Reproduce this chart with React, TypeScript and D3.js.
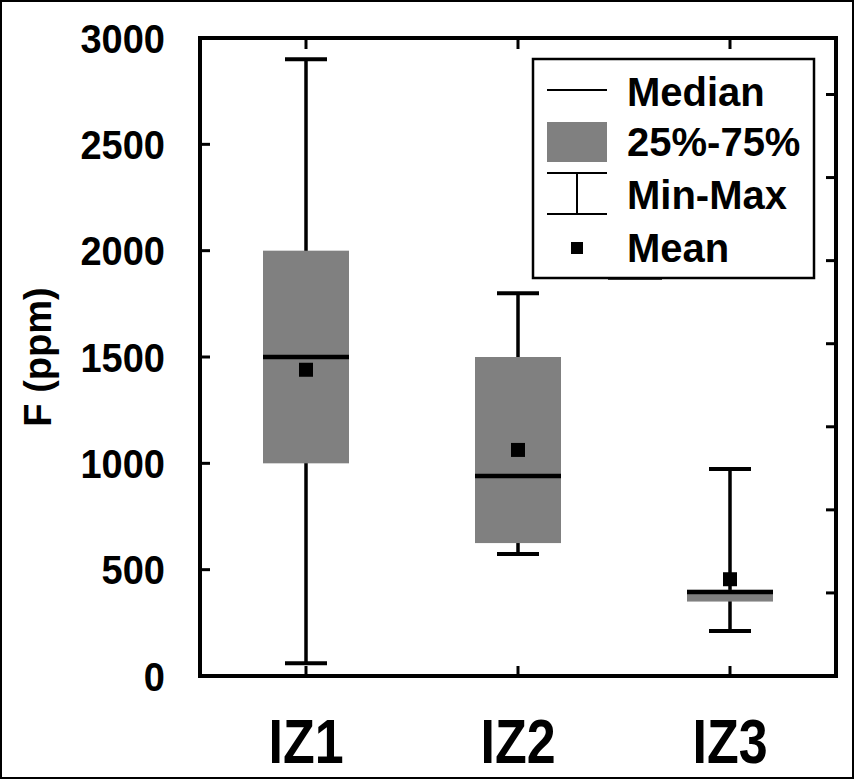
import { useEffect, useRef } from 'react';
import * as d3 from 'd3';

const categories = ['IZ1', 'IZ2', 'IZ3'];
const minVals = [60, 574, 212];
const q1Vals = [1000, 625, 350];
const medianVals = [1500, 940, 395];
const q3Vals = [2000, 1500, 405];
const maxVals = [2900, 1800, 973];
const meanVals = [1440, 1063, 455];
const yTicks = [0, 500, 1000, 1500, 2000, 2500, 3000];
// unlabeled ticks on the right-hand frame
const rightTicks = [1, 2, 3, 4, 5, 6, 7];
const legendItems = ['Median', '25%-75%', 'Min-Max', 'Mean'];

const W = 854;
const H = 779;
const FONT = '"Liberation Sans", Arial, Helvetica, sans-serif';

export default function App() {
  const svgRef = useRef<SVGSVGElement>(null);

  useEffect(() => {
    if (!svgRef.current) return;
    const svg = d3.select(svgRef.current);
    svg.selectAll('*').remove();

    const plot = { left: 200, right: 836, top: 38, bottom: 676 };

    const x = d3.scaleBand<string>().domain(categories).range([plot.left, plot.right]).padding(0);
    const y = d3.scaleLinear().domain([0, 3000]).range([plot.bottom, plot.top]);
    const yRight = d3.scaleLinear().domain([0, 7.68]).range([plot.bottom, plot.top]);
    const cx = (c: string) => (x(c) ?? 0) + x.bandwidth() / 2;

    const boxW = 86;
    const capW = 42;
    const meanSize = 14;

    // outer border
    svg.append('rect')
      .attr('x', 1).attr('y', 1)
      .attr('width', W - 2).attr('height', H - 2)
      .attr('fill', '#fff')
      .attr('stroke', '#000')
      .attr('stroke-width', 2);

    const g = svg.append('g');

    // boxes and whiskers
    categories.forEach((c, i) => {
      const xc = cx(c);
      g.append('line')
        .attr('x1', xc).attr('x2', xc)
        .attr('y1', y(minVals[i])).attr('y2', y(maxVals[i]))
        .attr('stroke', '#000').attr('stroke-width', 3.5);
      [minVals[i], maxVals[i]].forEach((v) => {
        g.append('line')
          .attr('x1', xc - capW / 2).attr('x2', xc + capW / 2)
          .attr('y1', y(v)).attr('y2', y(v))
          .attr('stroke', '#000').attr('stroke-width', 4);
      });
      g.append('rect')
        .attr('x', xc - boxW / 2)
        .attr('y', y(q3Vals[i]))
        .attr('width', boxW)
        .attr('height', y(q1Vals[i]) - y(q3Vals[i]))
        .attr('fill', '#808080');
      g.append('rect')
        .attr('x', xc - meanSize / 2)
        .attr('y', y(meanVals[i]) - meanSize / 2)
        .attr('width', meanSize).attr('height', meanSize)
        .attr('fill', '#000');
      g.append('line')
        .attr('x1', xc - boxW / 2).attr('x2', xc + boxW / 2)
        .attr('y1', y(medianVals[i])).attr('y2', y(medianVals[i]))
        .attr('stroke', '#000').attr('stroke-width', 4.5);
    });

    // frame
    svg.append('rect')
      .attr('x', plot.left).attr('y', plot.top)
      .attr('width', plot.right - plot.left)
      .attr('height', plot.bottom - plot.top)
      .attr('fill', 'none')
      .attr('stroke', '#000')
      .attr('stroke-width', 4);

    // left ticks + labels
    yTicks.forEach((t) => {
      if (t !== 0 && t !== 3000) {
        svg.append('line')
          .attr('x1', plot.left).attr('x2', plot.left + 10)
          .attr('y1', y(t)).attr('y2', y(t))
          .attr('stroke', '#000').attr('stroke-width', 3);
      }
      svg.append('text')
        .attr('transform', `translate(165,${y(t)}) scale(1,1.08)`)
        .attr('dy', '0.36em')
        .attr('text-anchor', 'end')
        .attr('font-family', FONT)
        .attr('font-weight', 'bold')
        .attr('font-size', 38)
        .attr('fill', '#000')
        .text(t);
    });

    // right ticks
    rightTicks.forEach((t) => {
      svg.append('line')
        .attr('x1', plot.right - 10).attr('x2', plot.right)
        .attr('y1', yRight(t)).attr('y2', yRight(t))
        .attr('stroke', '#000').attr('stroke-width', 3);
    });

    // top/bottom ticks and category labels
    categories.forEach((c) => {
      const xc = cx(c);
      svg.append('line')
        .attr('x1', xc).attr('x2', xc)
        .attr('y1', plot.top).attr('y2', plot.top + 11)
        .attr('stroke', '#000').attr('stroke-width', 3);
      svg.append('line')
        .attr('x1', xc).attr('x2', xc)
        .attr('y1', plot.bottom).attr('y2', plot.bottom - 10)
        .attr('stroke', '#000').attr('stroke-width', 3);
      svg.append('text')
        .attr('transform', `translate(${xc},763) scale(1,1.2)`)
        .attr('text-anchor', 'middle')
        .attr('font-family', FONT)
        .attr('font-weight', 'bold')
        .attr('font-size', 52)
        .attr('fill', '#000')
        .text(c);
    });

    // y axis title
    svg.append('text')
      .attr('transform', `translate(51,357) rotate(-90)`)
      .attr('text-anchor', 'middle')
      .attr('font-family', FONT)
      .attr('font-weight', 'bold')
      .attr('font-size', 38)
      .attr('fill', '#000')
      .text('F (ppm)');

    // stray mark under legend (present in the source image)
    svg.append('line')
      .attr('x1', 608).attr('x2', 662)
      .attr('y1', 279).attr('y2', 279)
      .attr('stroke', '#444').attr('stroke-width', 2);

    // legend
    const lg = svg.append('g');
    lg.append('rect')
      .attr('x', 533).attr('y', 59)
      .attr('width', 281).attr('height', 219)
      .attr('fill', '#fff')
      .attr('stroke', '#000')
      .attr('stroke-width', 2.5);

    const rowY = [92, 142, 195, 248];
    const symX0 = 547;
    const symX1 = 607;
    const symXc = (symX0 + symX1) / 2;

    lg.append('line')
      .attr('x1', symX0).attr('x2', symX1)
      .attr('y1', 90).attr('y2', 90)
      .attr('stroke', '#000').attr('stroke-width', 2);
    lg.append('rect')
      .attr('x', symX0).attr('y', 122)
      .attr('width', symX1 - symX0).attr('height', 40)
      .attr('fill', '#808080');
    lg.append('line')
      .attr('x1', symX0).attr('x2', symX1)
      .attr('y1', 173).attr('y2', 173)
      .attr('stroke', '#000').attr('stroke-width', 2);
    lg.append('line')
      .attr('x1', symX0).attr('x2', symX1)
      .attr('y1', 214).attr('y2', 214)
      .attr('stroke', '#000').attr('stroke-width', 2);
    lg.append('line')
      .attr('x1', symXc).attr('x2', symXc)
      .attr('y1', 173).attr('y2', 214)
      .attr('stroke', '#000').attr('stroke-width', 2);
    lg.append('rect')
      .attr('x', symXc - 6).attr('y', 242)
      .attr('width', 12).attr('height', 12)
      .attr('fill', '#000');

    legendItems.forEach((label, i) => {
      lg.append('text')
        .attr('x', 627)
        .attr('y', rowY[i])
        .attr('dy', '0.36em')
        .attr('font-family', FONT)
        .attr('font-weight', 'bold')
        .attr('font-size', 40)
        .attr('fill', '#000')
        .text(label);
    });
  }, []);

  return (
    <div style={{ position: 'absolute', left: 0, top: 0, width: W, height: H }}>
      <svg ref={svgRef} width={W} height={H} style={{ display: 'block' }} />
    </div>
  );
}
